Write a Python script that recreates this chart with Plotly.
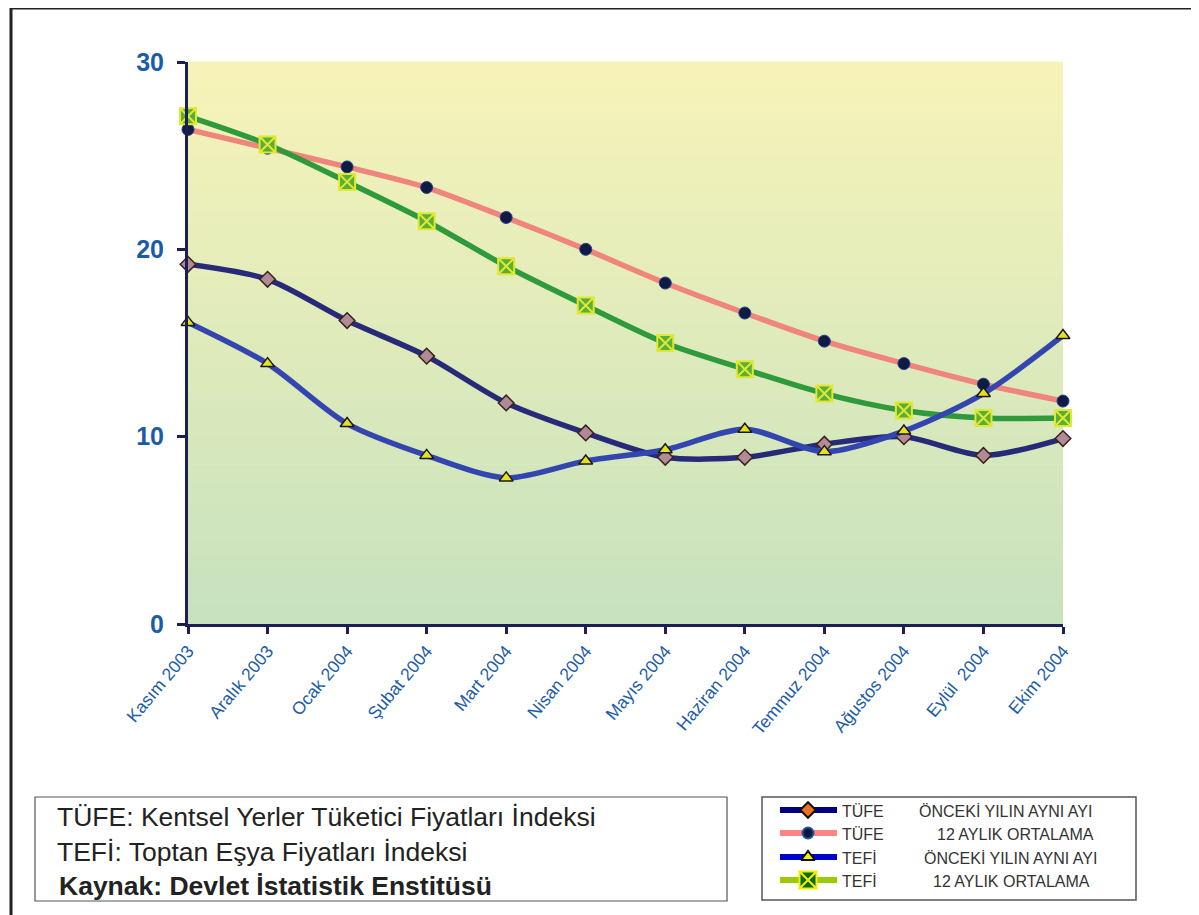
import plotly.graph_objects as go

months = ["Kasım 2003", "Aralık 2003", "Ocak 2004", "Şubat 2004", "Mart 2004", "Nisan 2004",
          "Mayıs 2004", "Haziran 2004", "Temmuz 2004", "Ağustos 2004", "Eylül  2004", "Ekim 2004"]
tufe_yillik = [19.2, 18.4, 16.2, 14.3, 11.8, 10.2, 8.9, 8.9, 9.6, 10.0, 9.0, 9.9]
tufe_ortalama = [26.4, 25.4, 24.4, 23.3, 21.7, 20.0, 18.2, 16.6, 15.1, 13.9, 12.8, 11.9]
tefe_yillik = [16.1, 13.9, 10.7, 9.0, 7.8, 8.7, 9.3, 10.4, 9.2, 10.3, 12.3, 15.4]
tefe_ortalama = [27.1, 25.6, 23.6, 21.5, 19.1, 17.0, 15.0, 13.6, 12.3, 11.4, 11.0, 11.0]
y_ticks = [0, 10, 20, 30]

OFF = 8  # page body margin in the browser
W, H = 1191, 907
ML, MR, MT, MB = 2, 2, 54, 10
PW, PH = W - ML - MR, H - MT - MB


def px(x):
    """reference-screen x -> paper fraction"""
    return (x - OFF - ML) / PW


def py(y):
    """reference-screen y -> paper fraction"""
    return (H - MB - (y - OFF)) / PH


FONT = "Liberation Sans, Arial, sans-serif"
BLUE_TXT = "#1b5ca8"
AXIS_COL = "#1c1f55"

fig = go.Figure()

series = [
    dict(y=tufe_ortalama, name="TÜFE 12 AYLIK ORTALAMA", color="#f0857e",
         marker=dict(symbol="circle", size=12, color="#0f1a45", line=dict(color="#23408a", width=1))),
    dict(y=tefe_ortalama, name="TEFİ 12 AYLIK ORTALAMA", color="#2f9a3c",
         marker=dict(symbol="square-x", size=16, color="#5aae3a", line=dict(color="#e0e830", width=2))),
    dict(y=tufe_yillik, name="TÜFE ÖNCEKİ YILIN AYNI AYI", color="#262a78",
         marker=dict(symbol="diamond", size=12, color="#b08a94", line=dict(color="#3a2020", width=1.5))),
    dict(y=tefe_yillik, name="TEFİ ÖNCEKİ YILIN AYNI AYI", color="#3346b0",
         marker=dict(symbol="triangle-up", size=12, color="#e6e020", line=dict(color="#1a1a1a", width=1.5))),
]
for s in series:
    fig.add_trace(go.Scatter(
        x=months, y=s["y"], name=s["name"], mode="lines+markers",
        line=dict(color=s["color"], width=5.5, shape="spline", smoothing=0.8),
        marker=s["marker"], cliponaxis=False, showlegend=False,
        xaxis="x", yaxis="y"))

# gradient background (yellow top -> green bottom)
N = 60
top = (247, 243, 184)
bot = (199, 226, 190)
shapes = []
for i in range(N):
    t = i / (N - 1)
    c = tuple(round(top[k] + (bot[k] - top[k]) * t) for k in range(3))
    shapes.append(dict(type="rect", xref="x domain", yref="y domain",
                       x0=0, x1=1, y0=1 - (i + 1) / N, y1=1 - i / N + 0.001,
                       fillcolor="rgb(%d,%d,%d)" % c, line=dict(width=0), layer="below"))

# outer frame (left and top)
shapes.append(dict(type="line", xref="paper", yref="paper", x0=px(11), x1=px(11), y0=py(8), y1=py(915),
                   line=dict(color="#222222", width=3)))
shapes.append(dict(type="line", xref="paper", yref="paper", x0=px(10), x1=px(1199), y0=py(8), y1=py(8),
                   line=dict(color="#222222", width=3)))
# note boxes
shapes.append(dict(type="rect", xref="paper", yref="paper", x0=px(35), x1=px(727), y0=py(901), y1=py(797),
                   line=dict(color="#555555", width=1.2)))
shapes.append(dict(type="rect", xref="paper", yref="paper", x0=px(762), x1=px(1136), y0=py(900), y1=py(797),
                   line=dict(color="#555555", width=1.5)))

# legend samples drawn on an overlay axis (axis units = reference pixels)
leg_rows = [810, 833, 857, 880]
leg_items = [
    dict(line="#000080", marker=dict(symbol="diamond", size=12, color="#f07020", line=dict(color="#111111", width=2))),
    dict(line="#ff8585", marker=dict(symbol="circle", size=11, color="#0a1640", line=dict(color="#2850a0", width=2))),
    dict(line="#0000cc", marker=dict(symbol="triangle-up", size=12, color="#f0f000", line=dict(color="#111111", width=2))),
    dict(line="#99cc00", marker=dict(symbol="square-x", size=17, color="#0c6a10", line=dict(color="#f0f000", width=2))),
]
for r, it in zip(leg_rows, leg_items):
    fig.add_trace(go.Scatter(x=[780, 837], y=[r, r], mode="lines", line=dict(color=it["line"], width=6),
                             xaxis="x2", yaxis="y2", showlegend=False, hoverinfo="skip"))
    fig.add_trace(go.Scatter(x=[808], y=[r], mode="markers", marker=it["marker"],
                             xaxis="x2", yaxis="y2", showlegend=False, hoverinfo="skip"))

leg_text = [("TÜFE", "ÖNCEKİ YILIN AYNI AYI", 917), ("TÜFE", "12 AYLIK ORTALAMA", 935),
            ("TEFİ", "ÖNCEKİ YILIN AYNI AYI", 922), ("TEFİ", "12 AYLIK ORTALAMA", 931)]
annotations = []
for r, (a, b, bx) in zip(leg_rows, leg_text):
    annotations.append(dict(xref="paper", yref="paper", x=px(840), y=py(r + 1), text=a, showarrow=False,
                            xanchor="left", yanchor="middle", font=dict(family=FONT, size=16, color="#333333")))
    annotations.append(dict(xref="paper", yref="paper", x=px(bx), y=py(r + 1), text=b, showarrow=False,
                            xanchor="left", yanchor="middle", font=dict(family=FONT, size=16, color="#333333")))

notes = [("TÜFE: Kentsel Yerler Tüketici Fiyatları İndeksi", 817, False),
         ("TEFİ: Toptan Eşya Fiyatları İndeksi", 852, False),
         ("<b>Kaynak: Devlet İstatistik Enstitüsü</b>", 886, True)]
for txt, yy, bold in notes:
    annotations.append(dict(xref="paper", yref="paper", x=px(55 if not bold else 57), y=py(yy), text=txt,
                            showarrow=False, xanchor="left", yanchor="middle",
                            font=dict(family=FONT, size=26.5, color="#222222")))

fig.update_layout(
    width=W, height=H,
    margin=dict(l=ML, r=MR, t=MT, b=MB, autoexpand=False),
    paper_bgcolor="white", plot_bgcolor="white",
    shapes=shapes, annotations=annotations,
    font=dict(family=FONT),
    xaxis=dict(domain=[px(188), px(1063)], type="category", range=[0, 11],
               showline=True, linecolor=AXIS_COL, linewidth=3, mirror=False,
               ticks="outside", ticklen=7, tickwidth=3, tickcolor=AXIS_COL,
               tickangle=-50, tickfont=dict(family=FONT, size=17.5, color=BLUE_TXT),
               showgrid=False, zeroline=False, fixedrange=True, automargin=False),
    yaxis=dict(domain=[py(624), py(62)], range=[0, 30], tickvals=y_ticks,
               ticktext=["<b>%d</b>" % v for v in y_ticks],
               showline=True, linecolor=AXIS_COL, linewidth=3,
               ticks="outside", ticklen=8, tickwidth=3, tickcolor=AXIS_COL,
               ticklabelstandoff=8,
               tickfont=dict(family=FONT, size=25, color=BLUE_TXT),
               showgrid=False, zeroline=False, fixedrange=True, automargin=False),
    xaxis2=dict(domain=[px(762), px(1136)], range=[762, 1136], visible=False, fixedrange=True, automargin=False),
    yaxis2=dict(domain=[py(900), py(797)], range=[900, 797], visible=False, fixedrange=True, anchor="x2",
                automargin=False),
)

fig.write_html("out.html")
